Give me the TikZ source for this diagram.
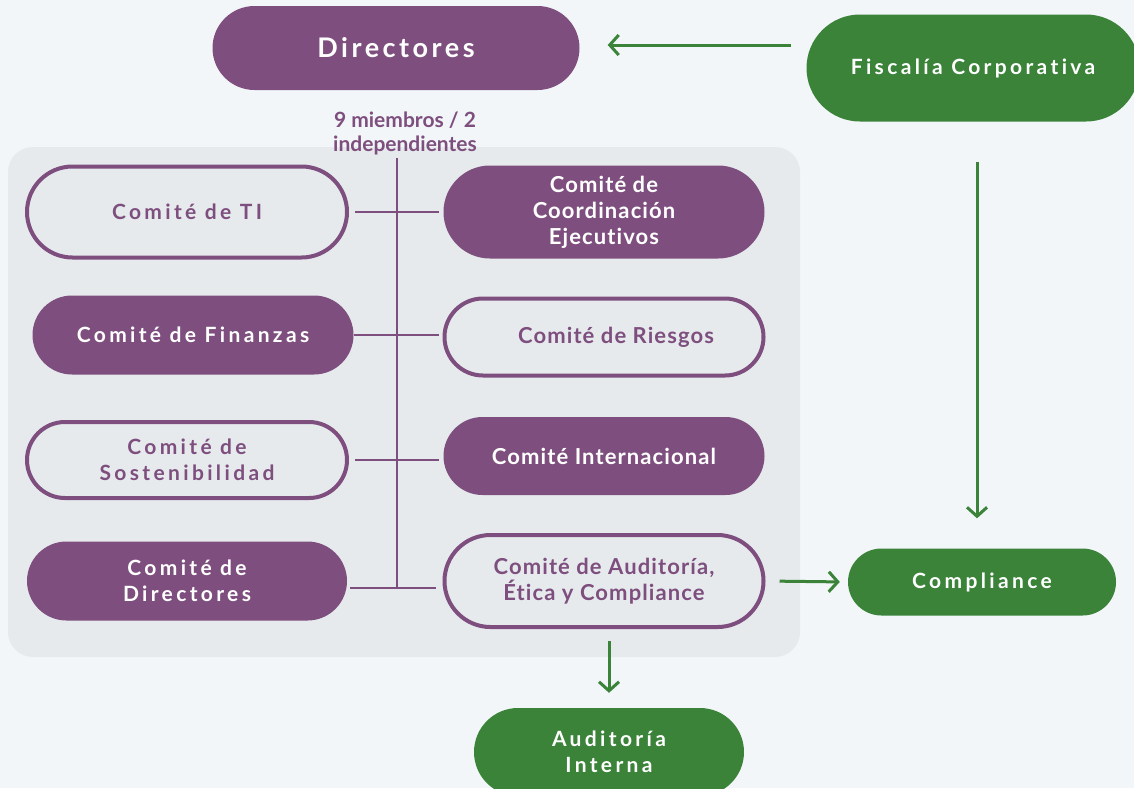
\documentclass[tikz,border=0pt]{standalone}
\usepackage{fontspec}
\setmainfont{Lato}[Ligatures=NoCommon]
\newfontfamily\ancho{Lato}[Ligatures=NoCommon,LetterSpace=16]
\newfontfamily\medio{Lato}[Ligatures=NoCommon,LetterSpace=5]
\newfontfamily\titulo{Lato}[Ligatures=NoCommon,LetterSpace=13]
\usetikzlibrary{shapes.misc,arrows.meta}
\definecolor{fondo}{HTML}{F2F6F9}
\definecolor{panel}{HTML}{E6EAED}
\definecolor{morado}{HTML}{7E4F7E}
\definecolor{verde}{HTML}{3A8339}
\begin{document}
\begin{tikzpicture}[x=1pt,y=-1pt,
    caja/.style={rounded rectangle,inner sep=0pt,align=center,
      font=\medio\bfseries\fontsize{22}{26}\selectfont},
    lleno/.style={caja,fill=morado,text=white},
    hueco/.style={caja,draw=morado,line width=4pt,fill=panel,text=morado},
    verdoso/.style={caja,fill=verde,text=white},
    espaciado/.style={font=\ancho\bfseries\fontsize{21}{26}\selectfont},
    enlace/.style={draw=morado,line width=2pt},
    flecha/.style={draw=verde,line width=3pt,-{Straight Barb[length=9pt,width=20pt]}}]
  \useasboundingbox[fill=fondo] (0,0) rectangle (1134,788);
  \fill[panel,rounded corners=25pt] (8,147) rectangle (800,657);
  % cabecera
  \node[lleno,minimum width=367pt,minimum height=84pt,
    font=\titulo\bfseries\fontsize{27}{30}\selectfont] (directores) at (396,48) {Directores};
  \node[verdoso,espaciado,minimum width=333pt,minimum height=107pt] (fiscalia) at (973,68) {Fiscalía Corporativa};
  \node[text=morado,font=\bfseries\fontsize{21}{24}\selectfont,align=center] (miembros) at (405,133)
    {9 miembros / 2\\independientes};
  % comites
  \node[hueco,espaciado,minimum width=320pt,minimum height=91pt] (ti) at (187,212) {Comité de TI};
  \node[lleno,espaciado,minimum width=321pt,minimum height=79pt] (finanzas) at (193,335) {Comité de Finanzas};
  \node[hueco,espaciado,minimum width=320pt,minimum height=76pt] (sostenibilidad) at (187,460) {Comité de\\Sostenibilidad};
  \node[lleno,espaciado,minimum width=320pt,minimum height=79pt] (comdirectores) at (187,581) {Comité de\\Directores};
  \node[lleno,minimum width=321pt,minimum height=93pt] (coordinacion) at (604,212) {Comité de\\Coordinación\\Ejecutivos};
  \node[hueco,minimum width=319pt,minimum height=77pt] (riesgos) at (604,337) {\hspace{24pt}Comité de Riesgos};
  \node[lleno,minimum width=321pt,minimum height=78pt] (internacional) at (604,456) {Comité Internacional};
  \node[hueco,minimum width=319pt,minimum height=92pt] (auditoria) at (604,581) {Comité de Auditoría,\\Ética y Compliance};
  \node[verdoso,espaciado,minimum width=268pt,minimum height=67pt] (compliance) at (982,582) {Compliance};
  \node[verdoso,espaciado,minimum width=270pt,minimum height=88pt] (interna) at (609,752) {Auditoría\\Interna};
  \coordinate (bajo) at (397,588);
  % lineas
  \begin{scope}[enlace]
    \draw (miembros.south -| bajo) -- (bajo);
    \draw[shorten <=6pt,shorten >=4pt] (ti.east) -- (ti.east -| coordinacion.west);
    \draw[shorten >=4pt] (finanzas.east) -- (finanzas.east -| riesgos.west);
    \draw[shorten <=6pt,shorten >=4pt] (sostenibilidad.east) -- (sostenibilidad.east -| internacional.west);
    \draw[shorten <=3pt,shorten >=7pt] (comdirectores.east |- bajo) -- (bajo -| auditoria.west);
  \end{scope}
  % flechas
  \draw[flecha,shorten <=15pt,shorten >=28pt] (fiscalia.west |- 0,45) -- (directores.east |- 0,45);
  \draw[flecha,shorten <=40pt,shorten >=30pt] (fiscalia.south -| 977,0) -- (compliance.north -| 977,0);
  \draw[flecha,shorten <=14pt,shorten >=8pt] (auditoria.east) -- (compliance.west);
  \draw[flecha,shorten <=12pt,shorten >=15pt] (interna.north |- auditoria.south) -- (interna.north);
\end{tikzpicture}
\end{document}
